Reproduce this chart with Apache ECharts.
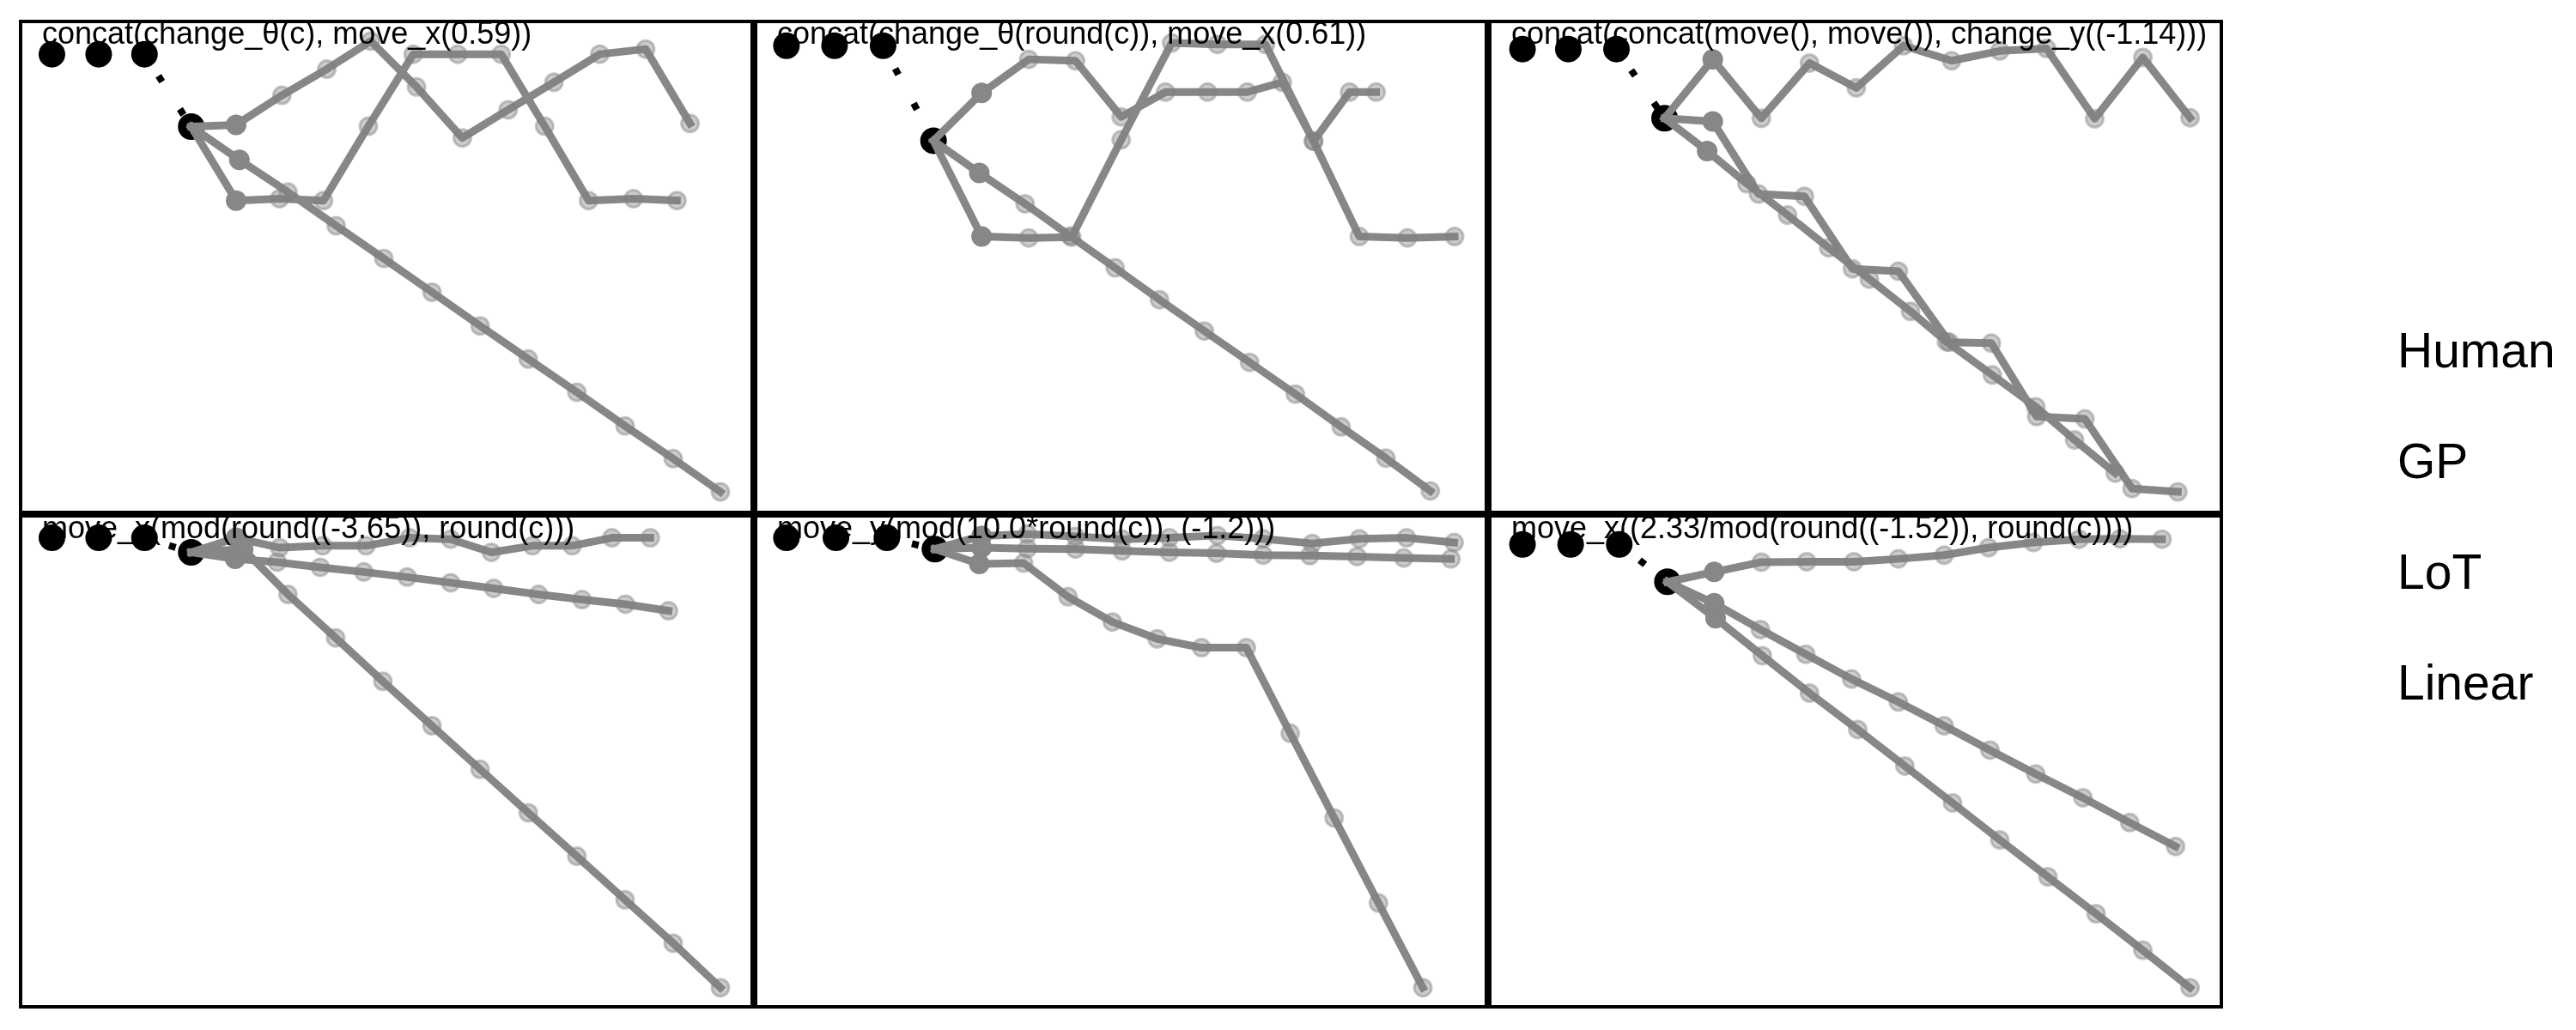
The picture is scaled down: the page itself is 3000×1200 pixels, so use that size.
<!DOCTYPE html>
<html><head><meta charset="utf-8">
<script src="https://cdn.jsdelivr.net/npm/echarts@6/dist/echarts.min.js"></script>
<style>html,body{margin:0;padding:0;background:#fff}#c{width:3000px;height:1200px}</style>
</head><body><div id="c"></div>
<script>
const panelTitles = [
  'concat(change_θ(c), move_x(0.59))',
  'concat(change_θ(round(c)), move_x(0.61))',
  'concat(concat(move(), move()), change_y((-1.14)))',
  'move_x(mod(round((-3.65)), round(c)))',
  'move_y(mod(10.0*round(c)), (-1.2)))',
  'move_x((2.33/mod(round((-1.52)), round(c))))'
];
const legendNames = ['Human', 'GP', 'LoT', 'Linear'];

// Panel 1
const p1Human = [[0.02,-0.10],[1.02,-0.10],[2.00,-0.10],[3.00,-1.65]];
const p1GP = [[3.96,-1.61],[4.94,-0.98],[5.90,-0.42],[6.84,0.18],[7.82,-0.80],[8.80,-1.89],[9.78,-1.29],[10.76,-0.70],[11.74,-0.10],[12.72,0.01],[13.67,-1.58]];
const p1LoT = [[3.96,-3.23],[4.89,-3.19],[5.83,-3.23],[6.79,-1.64],[7.75,-0.10],[8.70,-0.10],[9.63,-0.10],[10.56,-1.64],[11.50,-3.23],[12.46,-3.19],[13.39,-3.23]];
const p1Linear = [[4.03,-2.36],[5.07,-3.05],[6.10,-3.77],[7.12,-4.47],[8.15,-5.19],[9.18,-5.91],[10.21,-6.62],[11.25,-7.33],[12.28,-8.05],[13.31,-8.75],[14.32,-9.46]];
// Panel 2
const p2Human = [[0.01,0.08],[1.04,0.08],[2.08,0.08],[3.16,-1.95]];
const p2GP = [[4.19,-0.93],[5.20,-0.21],[6.20,-0.24],[7.18,-1.44],[8.13,-0.91],[9.03,-0.91],[9.88,-0.91],[10.63,-0.70],[11.30,-1.96],[12.07,-0.91],[12.64,-0.91]];
const p2LoT = [[4.19,-4.00],[5.20,-4.03],[6.12,-4.01],[7.18,-1.93],[8.26,0.14],[9.24,0.11],[10.27,0.11],[11.30,-1.96],[12.28,-4.00],[13.31,-4.03],[14.32,-4.00]];
const p2Linear = [[4.14,-2.64],[5.12,-3.30],[6.09,-3.99],[7.05,-4.67],[8.00,-5.35],[8.96,-6.02],[9.93,-6.69],[10.91,-7.37],[11.89,-8.07],[12.85,-8.74],[13.80,-9.44]];
// Panel 3
const p3Human = [[0.05,0.01],[1.03,0.01],[2.06,0.01],[3.09,-1.47]];
const p3GP = [[4.12,-0.21],[5.16,-1.47],[6.19,-0.29],[7.19,-0.82],[8.20,0.08],[9.23,-0.24],[10.26,-0.03],[11.26,0.02],[12.29,-1.48],[13.32,-0.17],[14.33,-1.46]];
const p3LoT = [[4.12,-1.54],[5.10,-3.09],[6.08,-3.14],[7.11,-4.69],[8.09,-4.74],[9.18,-6.26],[10.08,-6.28],[11.05,-7.85],[12.08,-7.90],[13.09,-9.39],[14.07,-9.46]];
const p3Linear = [[4.00,-2.17],[4.85,-2.87],[5.72,-3.54],[6.60,-4.24],[7.47,-4.91],[8.35,-5.60],[9.12,-6.25],[10.10,-6.96],[11.03,-7.64],[11.86,-8.35],[12.73,-9.06]];
// Panel 4
const p4Human = [[0.02,0.13],[1.02,0.13],[2.00,0.13],[3.00,-0.18]];
const p4GP = [[3.96,0.13],[4.89,-0.08],[5.81,-0.04],[6.74,-0.04],[7.67,0.13],[8.55,0.10],[9.42,-0.18],[10.30,-0.04],[11.15,-0.04],[12.00,0.13],[12.82,0.13]];
const p4LoT = [[3.94,-0.32],[4.84,-0.39],[5.76,-0.50],[6.69,-0.60],[7.62,-0.71],[8.55,-0.83],[9.47,-0.95],[10.43,-1.08],[11.36,-1.19],[12.29,-1.29],[13.21,-1.43]];
const p4Linear = [[4.11,-0.11],[5.07,-1.08],[6.09,-2.01],[7.10,-2.94],[8.15,-3.89],[9.18,-4.82],[10.21,-5.75],[11.25,-6.68],[12.28,-7.61],[13.31,-8.54],[14.32,-9.49]];
// Panel 5
const p5Human = [[0.01,0.13],[1.07,0.13],[2.16,0.13],[3.19,-0.11]];
const p5GP = [[4.19,0.17],[5.17,0.21],[6.20,0.16],[7.20,0.10],[8.21,0.13],[9.24,0.18],[10.22,0.11],[11.27,0.01],[12.28,0.11],[13.29,0.13],[14.31,0.03]];
const p5LoT = [[4.19,-0.08],[5.17,-0.10],[6.20,-0.11],[7.20,-0.15],[8.21,-0.18],[9.22,-0.20],[10.22,-0.24],[11.22,-0.25],[12.23,-0.27],[13.23,-0.30],[14.24,-0.32]];
const p5Linear = [[4.14,-0.43],[5.09,-0.41],[6.04,-1.13],[6.99,-1.67],[7.95,-2.03],[8.90,-2.22],[9.86,-2.22],[10.80,-4.05],[11.74,-5.86],[12.69,-7.68],[13.64,-9.49]];
// Panel 6
const p6Human = [[0.05,-0.01],[1.08,-0.01],[2.12,-0.01],[3.15,-0.81]];
const p6GP = [[4.15,-0.60],[5.16,-0.39],[6.13,-0.38],[7.14,-0.38],[8.09,-0.32],[9.07,-0.24],[10.02,-0.08],[10.98,0.03],[11.96,0.10],[12.83,0.11],[13.73,0.10]];
const p6LoT = [[4.15,-1.27],[5.14,-1.83],[6.11,-2.36],[7.09,-2.89],[8.09,-3.38],[9.07,-3.89],[10.05,-4.41],[11.03,-4.92],[12.04,-5.43],[13.04,-5.96],[14.02,-6.47]];
const p6Linear = [[4.18,-1.59],[5.18,-2.39],[6.19,-3.19],[7.22,-3.97],[8.23,-4.75],[9.25,-5.54],[10.26,-6.33],[11.29,-7.12],[12.32,-7.91],[13.32,-8.69],[14.33,-9.49]];

const panels = [
  {human: p1Human, gp: p1GP, lot: p1LoT, lin: p1Linear},
  {human: p2Human, gp: p2GP, lot: p2LoT, lin: p2Linear},
  {human: p3Human, gp: p3GP, lot: p3LoT, lin: p3Linear},
  {human: p4Human, gp: p4GP, lot: p4LoT, lin: p4Linear},
  {human: p5Human, gp: p5GP, lot: p5LoT, lin: p5Linear},
  {human: p6Human, gp: p6GP, lot: p6LoT, lin: p6Linear}
];

const colLeft = [24, 880, 1735];
const colWidth = [852, 851, 852];
const rowTop = [25, 601];
const rowHeight = 572;
const FONT = '"Liberation Sans", Arial, Helvetica, sans-serif';
const GRAY = '#878787';

const grid = [], xAxis = [], yAxis = [], series = [], title = [];
panels.forEach((p, i) => {
  const col = i % 3, row = Math.floor(i / 3);
  grid.push({left: colLeft[col], top: rowTop[row], width: colWidth[col], height: rowHeight,
    show: true, borderColor: '#000', borderWidth: 4, backgroundColor: 'transparent'});
  xAxis.push({type: 'value', gridIndex: i, min: -0.65, max: 15, show: false});
  yAxis.push({type: 'value', gridIndex: i, min: -9.9, max: 0.6, show: false});
  title.push({text: panelTitles[i], left: colLeft[col] + 25, top: rowTop[row] - 2, padding: 0, z: 6,
    textStyle: {fontFamily: FONT, fontSize: 36, fontWeight: 'normal', color: '#000'}});
  const last = p.human[p.human.length - 1];
  series.push({name: 'Human', type: 'scatter', xAxisIndex: i, yAxisIndex: i, silent: true,
    data: p.human.slice(0, 3), symbol: 'circle', symbolSize: 31, itemStyle: {color: '#000', opacity: 1}, z: 10});
  series.push({name: 'Human', type: 'line', xAxisIndex: i, yAxisIndex: i, silent: true,
    data: [{value: p.human[2], symbol: 'none'}, {value: last}],
    symbol: 'circle', symbolSize: 31, itemStyle: {color: '#000', opacity: 1},
    lineStyle: {color: '#000', width: 8, type: [8, 38], dashOffset: 16, cap: 'butt'}, z: 1});
  [['GP', p.gp], ['LoT', p.lot], ['Linear', p.lin]].forEach(([nm, pts]) => {
    const data = [{value: last, symbol: 'none'},
      {value: pts[0], symbolSize: 24, itemStyle: {color: GRAY, borderWidth: 0, opacity: 1}}]
      .concat(pts.slice(1).map(v => ({value: v})));
    series.push({name: nm, type: 'line', xAxisIndex: i, yAxisIndex: i, silent: true, data: data,
      symbol: 'circle', symbolSize: 20,
      itemStyle: {color: 'rgba(128,128,128,0.4)', borderColor: 'rgba(128,128,128,0.45)', borderWidth: 3, opacity: 1},
      lineStyle: {color: GRAY, width: 9, cap: 'square', join: 'round'}, z: 2});
  });
});

const chart = echarts.init(document.getElementById('c'), null, {renderer: 'canvas', width: 3000, height: 1200});
chart.setOption({
  animation: false,
  backgroundColor: '#fff',
  title: title,
  legend: {data: legendNames, orient: 'vertical', left: 2786, top: 384, padding: 0,
    itemWidth: 0, itemHeight: 0, itemGap: 72, icon: 'rect', selectedMode: false,
    textStyle: {fontFamily: FONT, fontSize: 57, color: '#000', lineHeight: 57}},
  grid: grid, xAxis: xAxis, yAxis: yAxis, series: series
});
</script></body></html>
